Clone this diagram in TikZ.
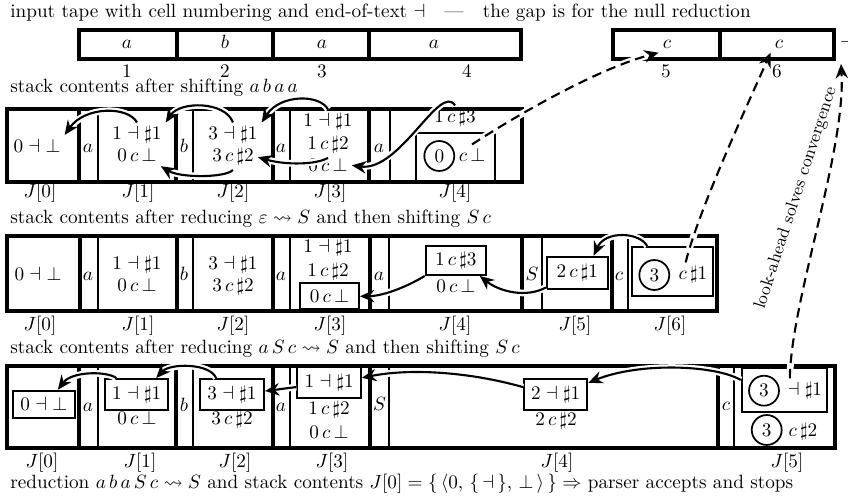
\documentclass[tikz,border=0pt]{standalone}
\usepackage{amssymb}
\usetikzlibrary{arrows.meta}
\newcommand\pxu{0.521pt}
\begin{document}
\begin{tikzpicture}[x=0.521pt,y=-0.521pt,
  thk/.style={line width=2.2pt},
  thn/.style={line width=1pt},
  txt/.style={inner sep=2pt, anchor=base},
  bx/.style={draw, line width=1pt, inner sep=0pt, anchor=center},
  bxs/.style 2 args={minimum width=#1*\pxu, minimum height=#2*\pxu},
  crc/.style={draw, circle, line width=0.9pt, minimum size=15.6pt, inner sep=0pt},
  halo/.style={preaction={draw=white, line width=3.5pt, solid, -, shorten >=4pt}},
  arr/.style={line width=1.1pt, -{Stealth[length=7.5pt,width=6.5pt,inset=2.5pt]}, halo},
  darr/.style={arr, dash pattern=on 5pt off 3pt},
  captn/.style={inner sep=0pt, anchor=base west},
  lab/.style={inner sep=0pt, anchor=base},
]
\useasboundingbox (0,0) rectangle (848,500);

% captions
\node[captn] (c1) at (10,17.5) {input tape with cell numbering and end-of-text $\dashv$\quad---\quad the gap is for the null reduction};
\node[captn] (c2) at (10,93) {stack contents after shifting $a\,b\,a\,a$};
\node[captn] (c3) at (10,224) {stack contents after reducing $\varepsilon\leadsto S$ and then shifting $S\,c$};
\node[captn] (c4) at (10,354) {stack contents after reducing $a\,S\,c\leadsto S$ and then shifting $S\,c$};
\node[captn] (c5) at (10,488) {reduction $a\,b\,a\,S\,c\leadsto S$ and stack contents $J[0]=\{\,\langle0,\,\{\,\dashv\,\},\,\bot\,\rangle\,\}\Rightarrow$ parser accepts and stops};

% tape
\draw[thk] (79,30) rectangle (521,59);
\draw[thk] (177,30) -- (177,59) (273,30) -- (273,59) (369,30) -- (369,59);
\draw[thk] (613,30) rectangle (834,59);
\draw[thk] (720,30) -- (720,59);
\node[txt] (ta1) at (127,48.5) {$a$};
\node[txt] (tb2) at (225,48.5) {$b$};
\node[txt] (ta3) at (322,48.5) {$a$};
\node[txt] (ta4) at (434,48.5) {$a$};
\node[txt] (tc5) at (667,48.5) {$c$};
\node[txt] (tc6) at (779,48.5) {$c$};
\node[txt, anchor=base west] (tend) at (836,48.5) {$\dashv$};
\coordinate (tendtip) at (841,64);
\node[lab] (n1) at (127,78) {1};
\node[lab] (n2) at (225,78) {2};
\node[lab] (n3) at (322,78) {3};
\node[lab] (n4) at (467,78) {4};
\node[lab] (n5) at (666,78) {5};
\node[lab] (n6) at (777,78) {6};

% ---------- row 1
\draw[thk] (7,109) rectangle (522,182);
\draw[thk] (79,109)--(79,182) (176,109)--(176,182) (273,109)--(273,182) (369,109)--(369,182);
\draw[thn] (98,109)--(98,182) (193,109)--(193,182) (290,109)--(290,182) (390,109)--(390,182);
\node[txt] (p0) at (37,152.5) {$0\dashv\bot$};
\node[txt] (ps1) at (88,152.5) {$a$};
\node[txt] (p1a) at (137,140) {$1\dashv\sharp1$};
\node[txt] (p1b) at (137,162) {$0\,c\,\bot$};
\node[txt] (ps2) at (184,152.5) {$b$};
\node[txt] (p2a) at (233,140) {$3\dashv\sharp1$};
\node[txt] (p2b) at (233,162) {$3\,c\,\sharp2$};
\node[txt] (ps3) at (281,152.5) {$a$};
\node[txt] (p3a) at (328,127) {$1\dashv\sharp1$};
\node[txt] (p3b) at (328,150) {$1\,c\,\sharp2$};
\node[txt] (p3c) at (328,172) {$0\,c\,\bot$};
\node[txt] (ps4) at (379,152.5) {$a$};
\node[txt] (p4a) at (455,123) {$1\,c\,\sharp3$};
\node[bx, bxs={79}{49}] (p4box) at (455.5,157.5) {};
\node[crc] (p4o) at (439.3,156) {$0$};
\node[txt] (p4x) at (472,162) {$c\,\bot$};
\node[lab] (l10) at (40,198) {$J[0]$};
\node[lab] (l11) at (138,198) {$J[1]$};
\node[lab] (l12) at (233,198) {$J[2]$};
\node[lab] (l13) at (330,198) {$J[3]$};
\node[lab] (l14) at (455,198) {$J[4]$};

% ---------- row 2
\draw[thk] (7,236) rectangle (717,311);
\draw[thk] (80,236)--(80,311) (177,236)--(177,311) (273,236)--(273,311) (370,236)--(370,311) (522,236)--(522,311) (612,236)--(612,311);
\draw[thn] (98,236)--(98,311) (193,236)--(193,311) (290,236)--(290,311) (389,236)--(389,311) (542,236)--(542,311) (628,236)--(628,311);
\node[txt] (q0) at (38,281) {$0\dashv\bot$};
\node[txt] (qs1) at (88,281) {$a$};
\node[txt] (q1a) at (137,270) {$1\dashv\sharp1$};
\node[txt] (q1b) at (137,292) {$0\,c\,\bot$};
\node[txt] (qs2) at (184,281) {$b$};
\node[txt] (q2a) at (233,270) {$3\dashv\sharp1$};
\node[txt] (q2b) at (233,292) {$3\,c\,\sharp2$};
\node[txt] (qs3) at (281,281) {$a$};
\node[txt] (q3a) at (328,253) {$1\dashv\sharp1$};
\node[txt] (q3b) at (328,277) {$1\,c\,\sharp2$};
\node[bx, bxs={59}{26}] (q3box) at (329.5,296.3) {$0\,c\,\bot$};
\node[txt] (qs4) at (379,281) {$a$};
\node[bx, bxs={60}{29.3}] (q4box) at (455.7,260.35) {$1\,c\,\sharp3$};
\node[txt] (q4b) at (456,293) {$0\,c\,\bot$};
\node[txt] (qs5) at (532,281) {$S$};
\node[bx, bxs={61}{32.3}] (q5) at (577.2,272.8) {$2\,c\,\sharp1$};
\node[txt] (qs6) at (619,281) {$c$};
\node[bx, bxs={81.6}{48.4}] (q6box) at (672.5,271.5) {};
\node[crc] (q6o) at (654.3,275) {$3$};
\node[txt] (q6x) at (693,280) {$c\,\sharp1$};
\node[lab] (l20) at (40,331) {$J[0]$};
\node[lab] (l21) at (138,331) {$J[1]$};
\node[lab] (l22) at (233,331) {$J[2]$};
\node[lab] (l23) at (330,331) {$J[3]$};
\node[lab] (l24) at (455,331) {$J[4]$};
\node[lab] (l25) at (575,331) {$J[5]$};
\node[lab] (l26) at (670,331) {$J[6]$};

% ---------- row 3
\draw[thk] (7,366) rectangle (835,448);
\draw[thk] (79,366)--(79,448) (176,366)--(176,448) (273,366)--(273,448) (370,366)--(370,448) (718,366)--(718,448);
\draw[thn] (98,366)--(98,448) (193,366)--(193,448) (290,366)--(290,448) (389,366)--(389,448) (734,366)--(734,448);
\node[bx, bxs={62.3}{27}] (r0box) at (43.85,404.2) {$0\dashv\bot$};
\node[txt] (rs1) at (88,412) {$a$};
\node[bx, bxs={63.3}{31}] (r1box) at (136.65,394.5) {$1\dashv\sharp1$};
\node[txt] (r1b) at (137,425) {$0\,c\,\bot$};
\node[txt] (rs2) at (184,412) {$b$};
\node[bx, bxs={64}{31}] (r2box) at (232,394.5) {$3\dashv\sharp1$};
\node[txt] (r2b) at (232,425) {$3\,c\,\sharp2$};
\node[txt] (rs3) at (281,412) {$a$};
\node[bx, bxs={63.7}{31.6}] (r3box) at (329.15,382.5) {$1\dashv\sharp1$};
\node[txt] (r3b) at (329,415) {$1\,c\,\sharp2$};
\node[txt] (r3c) at (329,438.3) {$0\,c\,\bot$};
\node[txt] (rs4) at (379.5,411) {$S$};
\node[bx, bxs={63.3}{30.7}] (r4box) at (555.65,394.65) {$2\dashv\sharp1$};
\node[txt] (r4b) at (556,426) {$2\,c\,\sharp2$};
\node[txt] (rs5) at (726,411) {$c$};
\node[bx, bxs={85}{44.6}] (r5box) at (784.2,390) {};
\node[crc] (r5o1) at (764,390.7) {$3$};
\node[txt] (r5x1) at (805,396) {$\dashv\sharp1$};
\node[crc] (r5o2) at (766.7,430) {$3$};
\node[txt] (r5x2) at (803,436.7) {$c\,\sharp2$};
\node[lab] (l30) at (42,467) {$J[0]$};
\node[lab] (l31) at (140,467) {$J[1]$};
\node[lab] (l32) at (235,467) {$J[2]$};
\node[lab] (l33) at (332,467) {$J[3]$};
\node[lab] (l34) at (557,467) {$J[4]$};
\node[lab] (l35) at (787,467) {$J[5]$};

\node[rotate=72, inner sep=0pt, font=\small] (lk) at (796,198) {look-ahead solves convergence};

% ---------- arrows row 1
\draw[arr] (p1a.north) .. controls (128,106) and (85,106) .. (p0.north east);
\draw[arr] (p2a.north) .. controls (225,101) and (180,101) .. (p1a.north east);
\draw[arr] (p3a.north) .. controls (320,94) and (280,94) .. (p2a.north east);
\draw[arr] (p2b.south) .. controls (225,178) and (180,178) .. (p1b.south east);
\draw[arr] (p3b.south) .. controls (315,165) and (285,165) .. (p2b.east);
\draw[arr] (p4a.north) .. controls (440,82) and (400,172) .. (p3c.east);
\draw[darr] (p4x.north) .. controls (520,113) and (600,68) .. (tc5.south west);

% ---------- arrows row 2
\draw[arr] (q6box.135) .. controls (640,232) and (605,230) .. (q5.46);
\draw[arr] (q5.205) .. controls (527,298) and (500,292) .. (q4box.327);
\draw[arr] (q4box.south west) .. controls (410,285) and (385,296) .. (q3box.east);
\draw[darr] (q6x.120) .. controls (698,212) and (745,110) .. (tc6.south west);

% ---------- arrows row 3
\draw[arr] (r1box.141) .. controls (107,371) and (72,371) .. (r0box.46);
\draw[arr] (r2box.134) .. controls (210,363) and (170,363) .. (r1box.40);
\draw[arr] (r3box.188) .. controls (288,388) and (274,390) .. (r2box.6);
\draw[arr] (r4box.167) .. controls (470,372) and (410,368) .. (r3box.8);
\draw[arr] (r5box.167) .. controls (715,365) and (640,362) .. (r4box.20);
\draw[darr] (r5x1.140) .. controls (791,300) and (846,150) .. (tendtip);
\end{tikzpicture}
\end{document}
